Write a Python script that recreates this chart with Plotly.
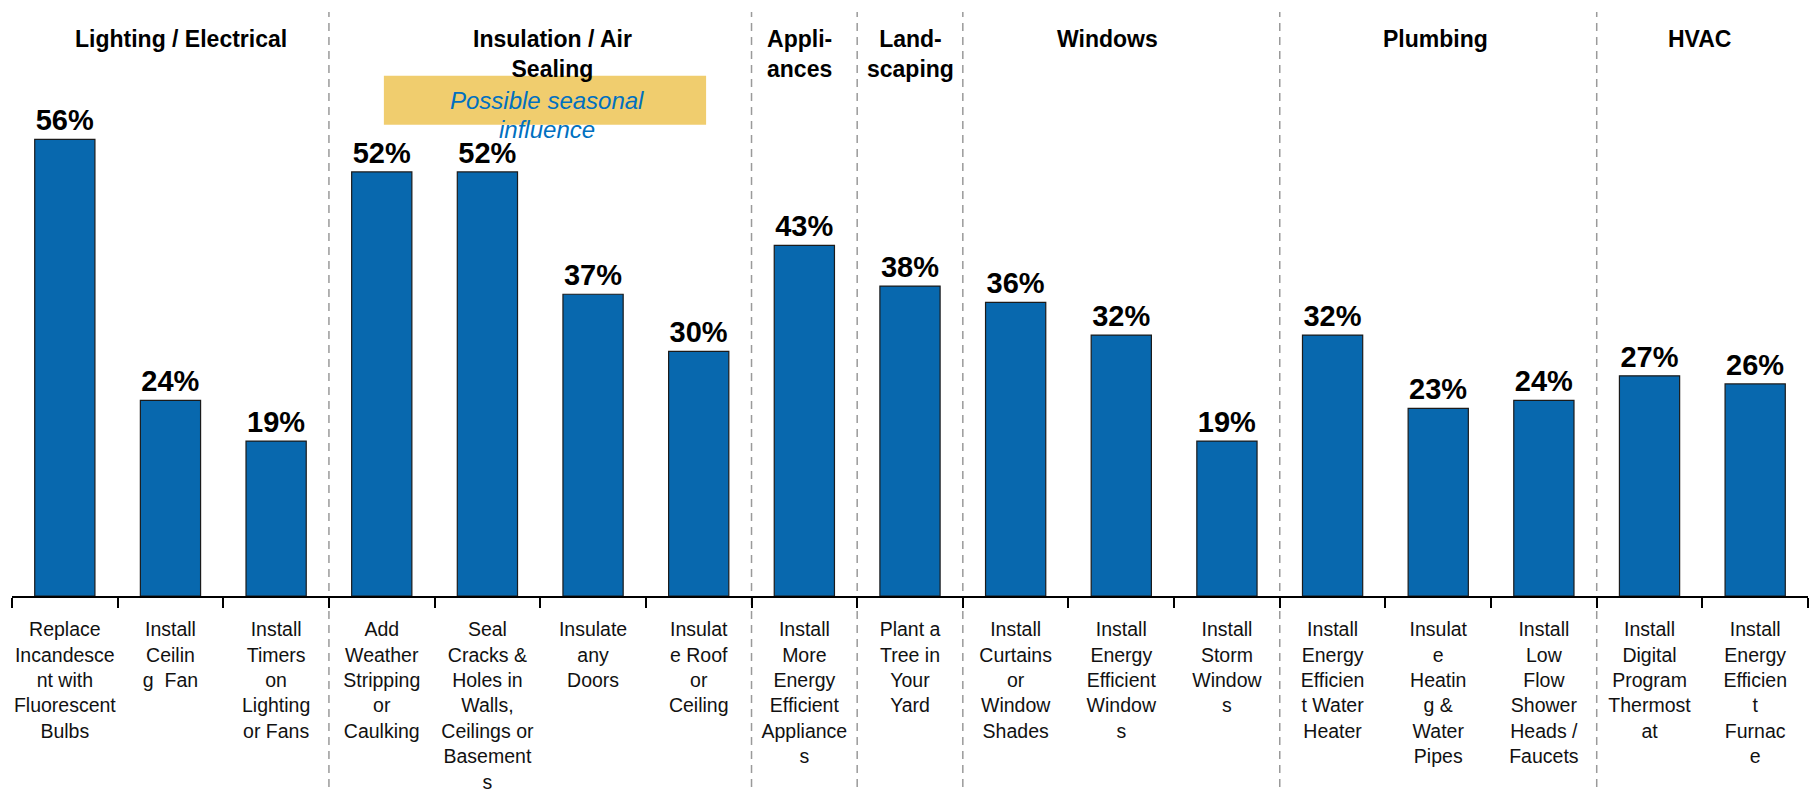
import plotly.graph_objects as go

# ---- data -------------------------------------------------------------
categories = [
    "Replace<br>Incandesce<br>nt with<br>Fluorescent<br>Bulbs",
    "Install<br>Ceilin<br>g  Fan",
    "Install<br>Timers<br>on<br>Lighting<br>or Fans",
    "Add<br>Weather<br>Stripping<br>or<br>Caulking",
    "Seal<br>Cracks &<br>Holes in<br>Walls,<br>Ceilings or<br>Basement<br>s",
    "Insulate<br>any<br>Doors",
    "Insulat<br>e Roof<br>or<br>Ceiling",
    "Install<br>More<br>Energy<br>Efficient<br>Appliance<br>s",
    "Plant a<br>Tree in<br>Your<br>Yard",
    "Install<br>Curtains<br>or<br>Window<br>Shades",
    "Install<br>Energy<br>Efficient<br>Window<br>s",
    "Install<br>Storm<br>Window<br>s",
    "Install<br>Energy<br>Efficien<br>t Water<br>Heater",
    "Insulat<br>e<br>Heatin<br>g &<br>Water<br>Pipes",
    "Install<br>Low<br>Flow<br>Shower<br>Heads /<br>Faucets",
    "Install<br>Digital<br>Program<br>Thermost<br>at",
    "Install<br>Energy<br>Efficien<br>t<br>Furnac<br>e",
]
values = [56, 24, 19, 52, 52, 37, 30, 43, 38, 36, 32, 19, 32, 23, 24, 27, 26]

group_names = [
    "Lighting / Electrical",
    "Insulation / Air<br>Sealing",
    "Appli-<br>ances",
    "Land-<br>scaping",
    "Windows",
    "Plumbing",
    "HVAC",
]
group_sizes = [3, 4, 1, 1, 3, 3, 2]
# small horizontal nudges (px) for each group heading
group_shift = [11, 12, -5, 0, -14, -3, -3]

note_lines = ["Possible seasonal", "influence"]

# ---- page geometry (pixels) --------------------------------------------
W, H = 1814, 794
M_L, M_R, M_T = 12, 6, 17
PLOT_H = 579
M_B = H - M_T - PLOT_H
Y_MAX = 71.0


def py(pixel_y):
    """Convert a page pixel row to paper y."""
    return (M_T + PLOT_H - pixel_y) / PLOT_H


FONT = "Liberation Sans, Arial, sans-serif"
BAR_BLUE = "#0868AE"

fig = go.Figure()
fig.add_trace(
    go.Bar(
        x=categories,
        y=values,
        marker=dict(color=BAR_BLUE, line=dict(color="#1b1b1b", width=1.2)),
        text=[f"{v}%" for v in values],
        textposition="outside",
        constraintext="none",
        cliponaxis=False,
        textfont=dict(family=FONT, size=29, color="#000000", weight="bold"),
        hoverinfo="skip",
    )
)

# group separators and headers
shapes = []
annotations = []
start = 0
for i, (name, n) in enumerate(zip(group_names, group_sizes)):
    center = start + (n - 1) / 2
    annotations.append(
        dict(
            x=center, xref="x", y=py(24), yref="paper",
            xanchor="center", yanchor="top", xshift=group_shift[i],
            text=name, showarrow=False,
            font=dict(family=FONT, size=23, color="#000000", weight="bold"),
        )
    )
    start += n
    if i < len(group_names) - 1:
        shapes.append(
            dict(
                type="line", xref="x", yref="paper",
                x0=start - 0.5, x1=start - 0.5, y0=py(787), y1=py(12),
                line=dict(color="#9a9a9a", width=1.5, dash="8px,6px"),
                layer="below",
            )
        )

# highlighted note over the insulation group
shapes.append(
    dict(
        type="rect", xref="x", yref="y",
        x0=3.02, x1=6.07, y0=57.8, y1=63.8,
        fillcolor="#F0CD6E", line=dict(width=0), layer="above",
    )
)
for k, line in enumerate(note_lines):
    annotations.append(
        dict(
            x=4.56, xref="x", y=py(101 + 29 * k), yref="paper",
            xanchor="center", yanchor="middle",
            text=line, showarrow=False,
            font=dict(family=FONT, size=24, color="#0070C0", style="italic"),
        )
    )

fig.update_layout(
    width=W, height=H,
    margin=dict(l=M_L, r=M_R, t=M_T, b=M_B, pad=0, autoexpand=False),
    paper_bgcolor="white", plot_bgcolor="white",
    bargap=0.43,
    showlegend=False,
    shapes=shapes,
    annotations=annotations,
    xaxis=dict(
        type="category",
        range=[-0.5, len(categories) - 0.5],
        tickson="boundaries",
        ticks="outside", ticklen=10, tickwidth=2, tickcolor="#000000",
        showline=True, linecolor="#000000", linewidth=2,
        showgrid=False, zeroline=False,
        tickangle=0,
        automargin=False,
        tickfont=dict(family=FONT, size=19.5, color="#111111"),
        ticklabelstandoff=15,
    ),
    yaxis=dict(
        range=[0, Y_MAX], visible=False, showgrid=False, zeroline=False,
        automargin=False,
    ),
)

fig.write_html("out.html")
